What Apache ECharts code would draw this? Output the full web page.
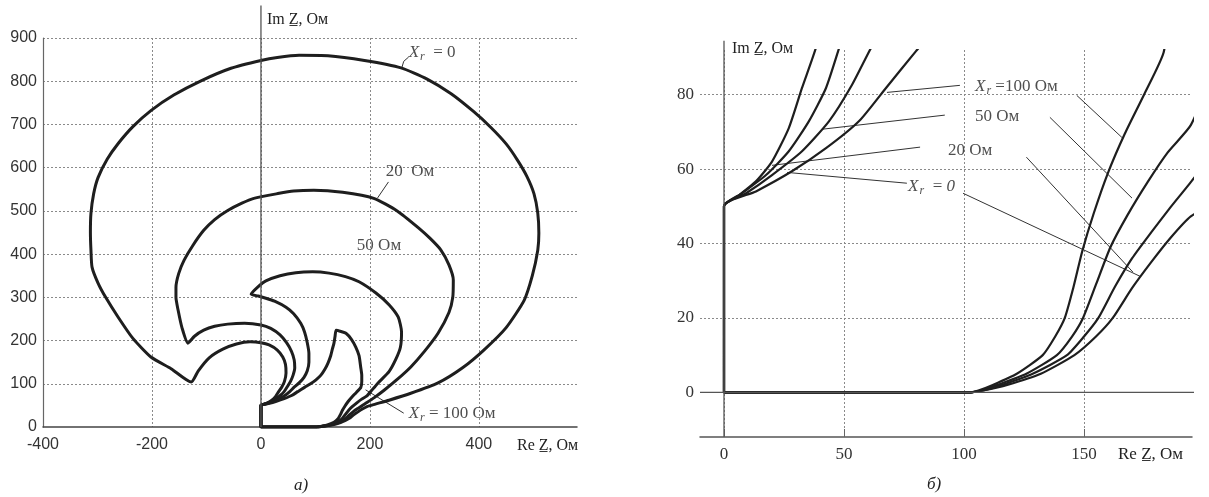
<!DOCTYPE html>
<html><head><meta charset="utf-8">
<script src="https://cdn.jsdelivr.net/npm/echarts@6/dist/echarts.min.js"></script>
<style>html,body{margin:0;padding:0;background:#fff}#c{width:1209px;height:497px}</style>
</head><body><div id="c"></div>
<script>
// ---- data (Re Z, Im Z in Ohm) ----
const xr0 = [[103,0],[0,0],[0,50],[6.3,53],[13.3,56.7],[20,62],[27,71],[32.5,81.8],[38.3,92.6],[43,105],[46,125],[45,145],[40,162],[30,178],[15,190],[0,195],[-20,197],[-45,192],[-70,180],[-95,160],[-115,130],[-128,104],
 [-165,135],[-202,162],[-235,205],[-262,254],[-285,300],[-299,333],[-310,370],[-312,409],[-313,450],[-312,494],[-307,540],[-299,577],[-282,620],[-262,656],[-235,695],[-202,732],[-160,768],[-110,801],[-55,830],[0,848],[30,855],[70,860],[123,859],[190,848],[257,831],[305,805],[349,771],[390,730],[422,693],[450,655],[471,617],[488,580],[501,540],[508,495],[510,448],[508,409],[498,350],[483,293],[450,230],[409,178],[370,137],[325,102],[275,78],[235,62],[210,53],[194.5,47.3],[186,41.5],[178,35],[170,28],[162,20],[155,15],[146,10],[132,5],[118,2],[108,0.5],[103,0]];
const xr20 = [[103,0],[0,0],[0,50],[7.5,53.5],[17.5,58.4],[27,64.8],[35.4,72.9],[42.5,81.8],[48,92.6],[54,105],[59,120],[62,137],[61,155],[56,175],[47,195],[35,213],[18,228],[0,236],[-30,240],[-61,238],[-85,233],[-105,224],[-122,210],[-134,194],
 [-145,230],[-152,270],[-156,300],[-156,323],[-151,355],[-141,386],[-125,420],[-105,455],[-85,480],[-61,501],[-35,518],[-13,529],[31,540],[60,546],[97,548],[150,543],[207,529],[250,500],[288,462],[310,437],[330,410],[345,375],[353,340],[352,300],[345,265],[325,217],[300,175],[275,139],[250,110],[226,85],[208,68],[194.5,56.5],[186,49.7],[178,43],[170,36],[163,28.5],[156,20],[150,15],[142.9,10],[128.6,5],[116,2],[108,0.5],[103,0]];
const xr50 = [[103,0],[0,0],[0,50],[9.2,53.5],[20,58.4],[32.5,64.8],[43.8,72.9],[53.3,82.6],[61.3,92.6],[70,102],[79,115],[85,130],[88,150],[88,170],[85,195],[80,220],[73,240],[60,262],[46,277],[25,291],[9,298],[-5,303],[-18,307],
 [-5,325],[9,338],[35,350],[64,357],[95,359],[125,356],[155,348],[180,336],[211,310],[235,283],[252,254],[258,220],[256,185],[248,158],[235,128],[215,102],[204,86],[194.5,71.8],[184.9,64.5],[176.5,56.5],[168,47.5],[161,39],[155,29],[149.6,20],[145,15],[138.7,10],[126,5],[114,2],[107,0.5],[103,0]];
const xr100 = [[103,0],[0,0],[0,50],[13.3,54],[28.3,59.4],[42.5,65.6],[56.3,72.9],[67.5,81.8],[80,91.7],[91,100],[101,109],[110,120],[117,133],[123,148],[128,165],[131,180],[134,194],[136,210],[138,224],
 [147,221],[156,217],[166,203],[174,185],[180,165],[183,139],[185,120],[185,105],[183.2,91.4],[175,80],[167,69.5],[160,59],[154,48],[149.3,38],[145.5,28],[142,20],[138,15],[132.8,10],[122,5],[112,2],[106,0.5],[103,0]];
const curveNames = ['Xr = 0', 'Xr = 20 Ом', 'Xr = 50 Ом', 'Xr = 100 Ом'];

// tick values of panel б
const ticksBX = [0, 50, 100, 150];
const ticksBY = [0, 20, 40, 60, 80];

// axis lines drawn through the origin
const imAxisA = [[0, 0], [0, 975]];
const imAxisB = [[0, -12], [0, 94.5]];
const reAxisB = [[-10, 0], [202, 0]];

// annotations (anchor in data units) and leader lines
const annotA = [[271, 866], [229, 590], [176, 421], [271, 32]];
const annotAText = ['{i|X}{s|r}{n|  = 0}', '{n|20  Ом}', '{n|50 Ом}', '{i|X}{s|r}{n| = 100 Ом}'];
const leadersA = [[[258, 829], [262, 846], [271, 856]], [[214, 530], [234, 567]], [[262, 32], [192, 86]]];
const annotB = [[104.6, 82.3], [104.6, 74], [93.3, 65], [76.7, 55.4]];
const annotBText = ['{i|X}{s|r}{n| =100 Ом}', '{n|50 Ом}', '{n|20 Ом}', '{i|X}{s|r}{n|  = }{i|0}'];
const leadersB = [[[98.3, 82.5], [67.9, 80.6]], [[147, 79.8], [165.8, 68.5]], [[92, 74.5], [40.8, 70.7]], [[135.8, 73.9], [170, 52.2]],
  [[81.7, 65.9], [20, 61]], [[126, 63.2], [170.4, 32.3]], [[76.2, 56.2], [26.3, 59.1]], [[99.6, 53.5], [173.3, 31.2]]];

// ---- chart ----
const serif = "'Liberation Serif','DejaVu Serif',serif";
const sans = "'Liberation Sans','DejaVu Sans',sans-serif";
const grid = { color: '#8a8a8a', type: [2, 2], width: 1 };
const rich = {
  i: { fontFamily: serif, fontStyle: 'italic', fontSize: 17, color: '#222' },
  s: { fontFamily: serif, fontStyle: 'italic', fontSize: 12, color: '#222', padding: [9, 0, 0, 1] },
  n: { fontFamily: serif, fontSize: 17, color: '#222' }
};
const curves = [xr0, xr20, xr50, xr100];
const series = [];
curves.forEach((c, k) => {
  [0, 1].forEach(g => series.push({
    name: curveNames[k], type: 'line', xAxisIndex: g, yAxisIndex: g, data: c,
    showSymbol: false, smooth: 0.2, silent: true,
    lineStyle: { color: '#1e1e1e', width: g === 0 ? 3 : 2.2 }
  }));
});
const axisSeries = (d, g) => ({ type: 'line', xAxisIndex: g, yAxisIndex: g, data: d, clip: false, showSymbol: false, silent: true,
  lineStyle: { color: '#555', width: 1.3 } });
series.push(axisSeries(imAxisA, 0), axisSeries(imAxisB, 1), axisSeries(reAxisB, 1));
const leaderSeries = (L, g) => ({ type: 'lines', coordinateSystem: 'cartesian2d', xAxisIndex: g, yAxisIndex: g, polyline: true, silent: true,
  data: L.map(c => ({ coords: c })), lineStyle: { color: '#333', width: 1, opacity: 1 } });
series.push(leaderSeries(leadersA, 0), leaderSeries(leadersB, 1));
const labelSeries = (P, T, g) => ({ type: 'scatter', xAxisIndex: g, yAxisIndex: g, symbolSize: 0, clip: false, silent: true,
  data: P.map((p, i) => ({ value: p, label: { formatter: T[i] } })),
  label: { show: true, position: 'right', distance: 0, rich: rich } });
series.push(labelSeries(annotA, annotAText, 0), labelSeries(annotB, annotBText, 1));

const chart = echarts.init(document.getElementById('c'));
chart.setOption({
  backgroundColor: '#fff',
  animation: false,
  grid: [{ left: 43, top: 38, width: 534, height: 389 }, { left: 700, top: 50, width: 492, height: 387 }],
  xAxis: [
    { gridIndex: 0, type: 'value', min: -400, max: 580, interval: 200,
      axisLine: { show: true, onZero: false, lineStyle: { color: '#444', width: 1.5 } }, axisTick: { show: false },
      axisLabel: { fontFamily: sans, fontSize: 16, color: '#333', margin: 10, showMaxLabel: false },
      splitLine: { show: true, showMinLine: false, showMaxLine: false, lineStyle: grid } },
    { gridIndex: 1, type: 'value', min: -10, max: 195,
      axisLine: { show: true, onZero: false, lineStyle: { color: '#555', width: 1.5 } },
      axisTick: { show: true, inside: true, length: 8, customValues: ticksBX, lineStyle: { color: '#666' } },
      axisLabel: { fontFamily: serif, fontSize: 17, color: '#333', margin: 9, customValues: ticksBX },
      splitLine: { show: true, lineStyle: grid } }
  ],
  yAxis: [
    { gridIndex: 0, type: 'value', min: 0, max: 900, interval: 100,
      axisLine: { show: true, onZero: false, lineStyle: { color: '#666', width: 1.2 } }, axisTick: { show: false },
      axisLabel: { fontFamily: sans, fontSize: 16, color: '#333', margin: 6 },
      splitLine: { show: true, showMinLine: false, lineStyle: grid } },
    { gridIndex: 1, type: 'value', min: -12, max: 92,
      axisLine: { show: false }, axisTick: { show: false, customValues: ticksBY },
      axisLabel: { fontFamily: serif, fontSize: 17, color: '#333', margin: 6, customValues: ticksBY },
      splitLine: { show: true, lineStyle: grid } }
  ],
  graphic: [
    { type: 'text', left: 267, top: 12, style: { text: 'Im Z\u0332, Ом', font: '16px ' + serif, fill: '#222' } },
    { type: 'text', left: 517, top: 438, style: { text: 'Re Z\u0332, Ом', font: '16px ' + serif, fill: '#222' } },
    { type: 'text', left: 294, top: 477, style: { text: 'а)', font: 'italic 17px ' + serif, fill: '#222' } },
    { type: 'text', left: 732, top: 41, style: { text: 'Im Z\u0332, Ом', font: '16px ' + serif, fill: '#222' } },
    { type: 'text', left: 1118, top: 446, style: { text: 'Re Z\u0332, Ом', font: '17px ' + serif, fill: '#222' } },
    { type: 'text', left: 927, top: 476, style: { text: 'б)', font: 'italic 17px ' + serif, fill: '#222' } }
  ],
  series: series
});
</script></body></html>
